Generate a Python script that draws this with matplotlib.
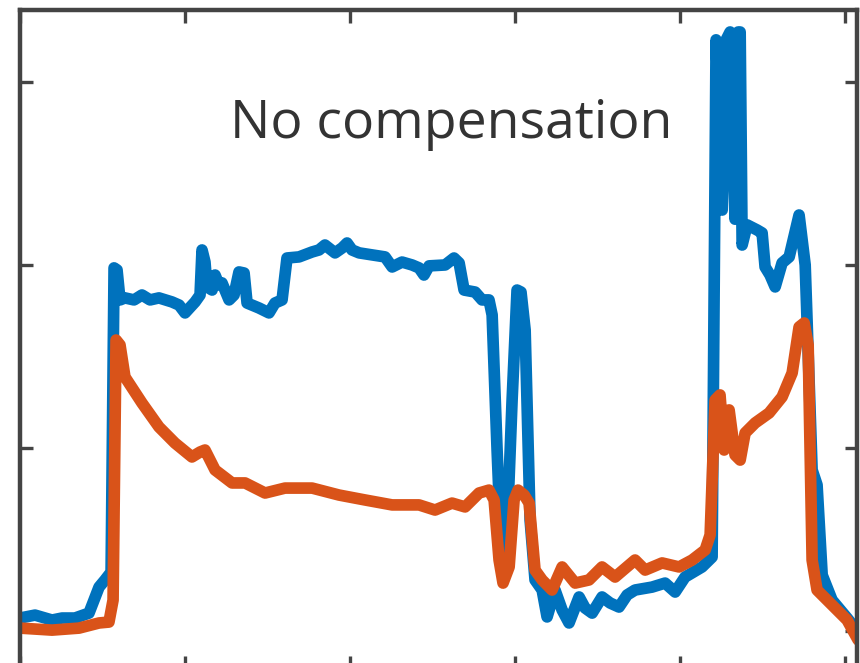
import matplotlib
matplotlib.use("Agg")
import matplotlib.pyplot as plt

# ---- data ----
blue_x = [0.0, 0.91, 1.94, 2.55, 3.33, 4.18, 4.79, 5.15, 5.52, 5.70, 5.88, 6.06, 6.36, 6.91,
          7.39, 7.88, 8.42, 9.21, 9.64, 10.0, 10.61, 10.91, 11.03, 11.21, 11.33, 11.64, 11.82,
          12.06, 12.24, 12.67, 12.97, 13.27, 13.58, 13.76, 14.48, 15.09, 15.45, 15.88, 16.18,
          16.91, 17.70, 18.12, 18.48, 19.09, 19.52, 19.82, 20.12, 20.55, 21.33, 22.12, 22.55,
          23.15, 23.76, 24.18, 24.48, 24.79, 25.76, 26.30, 26.61, 26.91, 27.58, 28.0, 28.42,
          28.61, 28.91, 29.21, 29.45, 29.82, 30.12, 30.36, 30.61, 30.91, 31.21, 31.64, 31.94,
          32.42, 32.85, 33.27, 33.88, 34.24, 34.67, 35.27, 35.76, 36.30, 36.79, 37.27, 38.30,
          39.09, 39.70, 40.30, 41.33, 41.94, 42.18, 42.55, 42.79, 43.03, 43.33, 43.52, 43.64,
          43.76, 44.06, 44.67,
          44.97, 45.15, 45.45, 45.76, 46.18, 46.61, 47.21, 47.58, 48.0, 48.30, 48.61, 49.21,
          50.12, 50.79]
blue_y = [0.071, 0.087, 0.060, 0.071, 0.071, 0.098, 0.240, 0.279, 0.322, 1.984, 1.973, 1.809,
          1.820, 1.809, 1.836, 1.809, 1.820, 1.798, 1.781, 1.738, 1.798, 1.836, 2.082, 2.016,
          1.880, 1.863, 1.945, 1.891, 1.902, 1.809, 1.836, 1.962, 1.956, 1.792, 1.765, 1.738,
          1.792, 1.809, 2.038, 2.044, 2.071, 2.082, 2.109, 2.066, 2.093, 2.120, 2.082, 2.066,
          2.055, 2.044, 1.989, 2.016, 2.000, 1.984, 1.945, 1.995, 2.000, 2.038, 2.011, 1.863,
          1.852, 1.809, 1.809, 1.727, 0.989, 0.333, 0.388, 1.262, 1.863, 1.852, 1.645, 0.607,
          0.279, 0.224, 0.077, 0.224, 0.115, 0.044, 0.186, 0.126, 0.098, 0.186, 0.153, 0.131,
          0.197, 0.224, 0.240, 0.262, 0.213, 0.295, 0.350, 0.404, 3.230, 2.300, 3.230, 3.273,
          2.250, 3.273, 3.273,
          2.109, 2.219, 2.191, 2.175, 1.989, 1.945, 1.880, 2.011, 2.044, 2.273, 2.000, 0.880,
          0.798, 0.306, 0.169, 0.071, -0.005]

orange_x = [0.0, 1.94, 3.58, 4.79, 5.39, 5.64, 5.82, 6.06, 6.36, 7.39, 8.42, 9.39, 10.42,
            10.91, 11.21, 11.82, 12.85, 13.64, 14.85, 16.06, 17.70, 19.33, 20.91, 22.55,
            24.18, 25.15, 26.18, 26.97, 27.82, 28.42, 28.73, 29.03, 29.27, 29.64, 29.94,
            30.18, 30.55, 30.85, 31.21, 31.64, 32.24, 32.85, 33.64, 34.48, 35.27, 36.06,
            37.27, 37.88, 38.91, 39.94, 40.73, 41.52, 41.82, 42.12, 42.42, 42.67, 42.97,
            43.33, 43.64, 43.94, 44.55, 45.39, 46.18, 46.79, 47.21, 47.52, 47.76, 48.0,
            48.30, 49.21, 50.12, 50.79]
orange_y = [0.016, 0.005, 0.016, 0.044, 0.049, 0.169, 1.590, 1.563, 1.388, 1.246, 1.115,
            1.027, 0.951, 0.978, 0.989, 0.880, 0.809, 0.809, 0.754, 0.781, 0.781, 0.743,
            0.716, 0.689, 0.689, 0.661, 0.699, 0.678, 0.754, 0.770, 0.716, 0.388, 0.262,
            0.350, 0.716, 0.770, 0.743, 0.699, 0.333, 0.279, 0.224, 0.350, 0.262, 0.279,
            0.350, 0.295, 0.388, 0.333, 0.372, 0.350, 0.388, 0.443, 0.525, 1.262, 1.290,
            0.989, 1.208, 0.962, 0.934, 1.082, 1.137, 1.191, 1.279, 1.410, 1.661, 1.683,
            1.563, 0.388, 0.224, 0.142, 0.060, -0.049]

x_ticks = [0, 10, 20, 30, 40, 50]
y_ticks = [0, 1, 2, 3]
title_text = "No compensation"

# ---- figure ----
W, H = 860, 663
fig = plt.figure(figsize=(W / 100, H / 100), dpi=100)
left_px, right_px, top_px, bottom_px = 20, 857, 10, 668
ax = fig.add_axes([left_px / W, (H - bottom_px) / H,
                   (right_px - left_px) / W, (bottom_px - top_px) / H])

lw = 8.4
ax.plot(blue_x, blue_y, color="#0072BD", lw=lw, solid_joinstyle="round",
        solid_capstyle="round", clip_on=True)
ax.plot(orange_x, orange_y, color="#D95319", lw=lw, solid_joinstyle="round",
        solid_capstyle="round", clip_on=True)

ax.set_xlim(0.0, 50.72)
ax.set_ylim(-0.202, 3.393)
ax.set_xticks(x_ticks)
ax.set_yticks(y_ticks)
ax.set_xticklabels([])
ax.set_yticklabels([])
ax.tick_params(direction="in", length=9, width=2.4, color="#444444",
               top=True, right=True, bottom=True, left=True)
for s in ax.spines.values():
    s.set_linewidth(3.2)
    s.set_color("#444444")

ax.text(26.1, 2.694, title_text, ha="center", va="baseline",
        fontsize=38.5, color="#333333", family=["Open Sans", "DejaVu Sans"])

fig.savefig("out.png", dpi=100)
